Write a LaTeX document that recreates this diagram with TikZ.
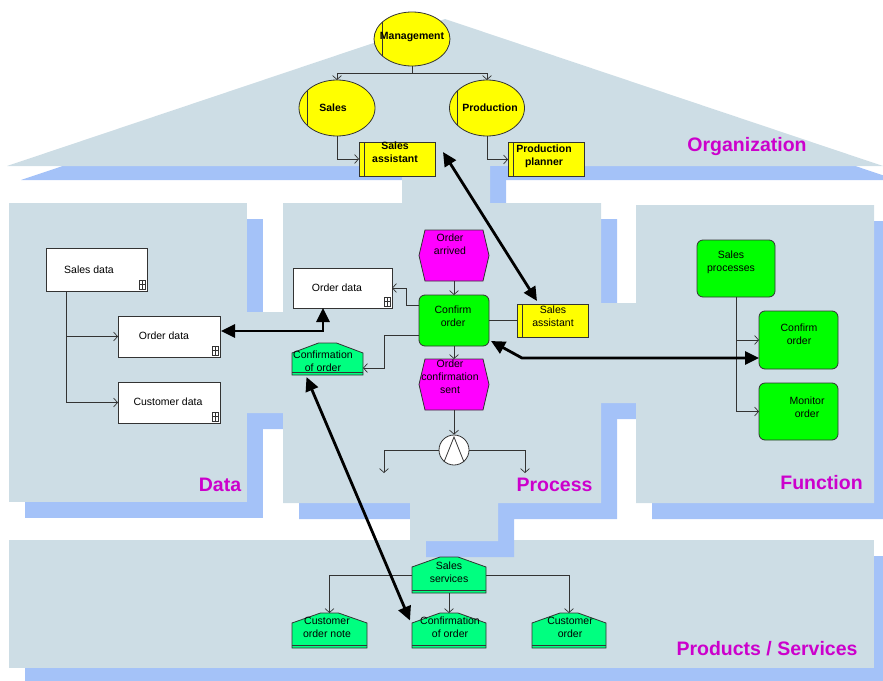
\documentclass[tikz,border=0pt]{standalone}
\usepackage{fontspec}
\setmainfont{Liberation Sans}
\usetikzlibrary{arrows.meta,calc,shapes.geometric}

\definecolor{houseblue}{RGB}{205,221,229}
\definecolor{shadowblue}{RGB}{164,194,248}
\definecolor{orgyellow}{RGB}{255,255,0}
\definecolor{eventmag}{RGB}{255,0,255}
\definecolor{funcgreen}{RGB}{0,255,0}
\definecolor{prodgreen}{RGB}{0,255,128}
\definecolor{titlemag}{RGB}{204,0,204}
\definecolor{edgegray}{RGB}{51,51,51}

\tikzset{
  platefill/.style={fill=houseblue},
  shadowfill/.style={fill=shadowblue},
  txt/.style={font=\fontsize{10.5}{13}\selectfont, align=center, inner sep=0pt},
  btxt/.style={font=\fontsize{10.5}{13}\bfseries\selectfont, align=center, inner sep=0pt},
  housetitle/.style={font=\fontsize{19.5}{23}\bfseries\selectfont, text=titlemag, inner sep=0pt},
  sized/.style 2 args={rectangle, minimum width=#1pt, minimum height=#2pt, inner sep=0pt, outer sep=0pt},
  edged/.style={draw=edgegray, line width=0.8pt},
  orgunit/.style 2 args={sized={#1}{#2}, ellipse, edged, fill=orgyellow,
    path picture={\draw[edgegray, line width=0.8pt]
      ([xshift=8pt]path picture bounding box.south west) --
      ([xshift=8pt]path picture bounding box.north west);}},
  roleunit/.style 2 args={sized={#1}{#2}, edged, fill=orgyellow,
    path picture={\draw[edgegray, line width=0.8pt]
      ([xshift=5pt]path picture bounding box.south west) --
      ([xshift=5pt]path picture bounding box.north west);}},
  entity/.style 2 args={sized={#1}{#2}, edged, fill=white},
  func/.style 2 args={sized={#1}{#2}, edged, fill=funcgreen, rounded corners=6pt},
  slot/.style 2 args={sized={#1}{#2}},
  conn/.style={draw=edgegray, line width=0.7pt},
  flow/.style={conn, -{Straight Barb[length=4pt,width=9pt]}},
  assign/.style={line width=2.8pt, black,
    {Triangle[length=14pt,width=13pt]}-{Triangle[length=14pt,width=13pt]}},
}

% event: hexagon drawn on the anchors of a slot node
\newcommand\evhex[1]{%
  \filldraw[edged, fill=eventmag] (#1.west) -- ([xshift=6pt]#1.north west) --
    ([xshift=-6pt]#1.north east) -- (#1.east) -- ([xshift=-6pt]#1.south east) --
    ([xshift=6pt]#1.south west) -- cycle;}
% product/service: house outline with a base stripe
\newcommand\prodhouse[1]{%
  \filldraw[edged, fill=prodgreen] (#1.south west) -- ([yshift=-10pt]#1.north west) --
    ([xshift=-9pt]#1.north) -- ([xshift=9pt]#1.north) --
    ([yshift=-10pt]#1.north east) -- (#1.south east) -- cycle;
  \draw[edgegray, line width=0.6pt] ([yshift=3pt]#1.south west) -- ([yshift=3pt]#1.south east);}
% small table glyph in the lower right corner of an entity
\newcommand\tabicon[1]{%
  \draw[edgegray, line width=0.5pt]
    ([shift={(-8pt,2pt)}]#1.south east) rectangle ([shift={(-1.5pt,10.5pt)}]#1.south east)
    ([shift={(-5pt,2pt)}]#1.south east) -- ([shift={(-5pt,10.5pt)}]#1.south east)
    ([shift={(-8pt,6.5pt)}]#1.south east) -- ([shift={(-1.5pt,6.5pt)}]#1.south east);}

\begin{document}
\begin{tikzpicture}[x=1pt,y=-1pt]
\useasboundingbox (0,0) rectangle (883,680);
\clip (0,0) rectangle (883,680);

% ---------- the house ----------
% roof
\fill[shadowfill] (21,180) -- (459,33) -- (897,180) -- cycle;
\fill[platefill] (7,166) -- (445,19) -- (883,166) -- cycle;
% floor: products / services
\fill[shadowfill] (25,556) rectangle (890,684);
\fill[platefill] (9,540) rectangle (874,668);
% data wing
\fill[shadowfill] (25,219) rectangle (263,518);
\fill[platefill] (9,203) rectangle (247,502);
% process core with its links to the data wing, roof and floor
\begin{scope}[shift={(16,16)}]
  \fill[shadowfill] (283,203) rectangle (601,503) (240,312) rectangle (283,413)
    (402,150) rectangle (490,205) (410,500) rectangle (498,541);
\end{scope}
\fill[platefill] (283,203) rectangle (601,503) (240,312) rectangle (283,413)
  (402,150) rectangle (490,205) (410,500) rectangle (498,541);
% function wing with its link to the process core
\fill[shadowfill] (652,221) rectangle (890,519) (611,319) rectangle (658,419);
\fill[platefill] (636,205) rectangle (874,503) (595,303) rectangle (642,403);

% ---------- organization ----------
\node[orgunit={76}{54}] (mgmt) at (412,39) {};
\node[orgunit={76}{56}] (sales) at (337,108) {};
\node[orgunit={75}{56}] (prodn) at (487,108) {};
\node[roleunit={76}{34}] (sa1) at (397,159) {};
\node[roleunit={76}{34}] (pp) at (546,159.5) {};
\node[btxt] (t-mgmt) at (412,37) {Management};
\node[btxt] (t-sales) at (333,108) {Sales};
\node[btxt] (t-prodn) at (490,108) {Production};
\node[btxt] (t-sa1) at (395,152) {Sales\\assistant};
\node[btxt] (t-pp) at (544,156) {Production\\planner};
\draw[flow] (mgmt.south) -- ++(0,7) -| (sales.north);
\draw[flow] (mgmt.south) -- ++(0,7) -| (prodn.north);
\draw[flow] (sales.south) |- (sa1.west);
\draw[flow] (prodn.south) |- (pp.west);

% ---------- data ----------
\node[entity={101}{43}] (sd) at (96.5,269.5) {};
\node[entity={102}{41}] (od1) at (169,336.5) {};
\node[entity={102}{41}] (cd) at (169,402.5) {};
\tabicon{sd}\tabicon{od1}\tabicon{cd}
\node[txt] (t-sd) at (89,270) {Sales data};
\node[txt] (t-od1) at (164,336) {Order data};
\node[txt] (t-cd) at (168,402) {Customer data};
\draw[flow] ($(sd.south west)+(20,0)$) |- (od1.west);
\draw[flow] ($(sd.south west)+(20,0)$) |- (cd.west);

% ---------- process ----------
\node[slot={70}{51}] (oa) at (454,255.5) {};
\evhex{oa}
\node[func={70}{51}] (co) at (454,320.5) {};
\node[slot={70}{51}] (ocs) at (454,384.5) {};
\evhex{ocs}
\node[circle, edged, fill=white, minimum size=30pt, inner sep=0pt] (andc) at (454,450) {};
\draw[edgegray, line width=0.8pt] ($(andc.center)+(-10,12)$) -- ($(andc.center)+(0,-13)$) -- ($(andc.center)+(10,12)$);
\node[entity={99}{40}] (od2) at (342.5,288) {};
\tabicon{od2}
\node[slot={71}{32}] (cp) at (327.5,359) {};
\prodhouse{cp}
\node[roleunit={71}{33}] (sa2) at (552.5,320.5) {};
\node[txt] (t-oa) at (450,244.5) {Order\\arrived};
\node[txt] (t-co) at (453,316) {Confirm\\order};
\node[txt] (t-ocs) at (450,377) {Order\\confirmation\\sent};
\node[txt] (t-od2) at (337,288) {Order data};
\node[txt] (t-cp) at (323,361) {Confirmation\\of order};
\node[txt] (t-sa2) at (553,316) {Sales\\assistant};
\draw[flow] (oa.south) -- (co.north);
\draw[flow] (co.south) -- (ocs.north);
\draw[flow] (ocs.south) -- (andc.north);
\coordinate (andL) at (384,473);
\coordinate (andR) at (525,473);
\draw[flow] (andc.west) -| (andL);
\draw[flow] (andc.east) -| (andR);
\draw[flow] ($(co.west)+(0,-15.5)$) -- ++(-13,0) |- (od2.east);
\draw[flow] ($(co.west)+(0,14.5)$) -- ++(-35,0) |- ($(cp.east)+(0,9)$);
\draw[conn] (co.east) -- (sa2.west);

% ---------- function ----------
\node[func={78}{57}] (spf) at (736,268.5) {};
\node[func={79}{58}] (fco) at (798.5,340) {};
\node[func={79}{57}] (mo) at (798.5,411.5) {};
\node[txt] (t-spf) at (731,262.5) {Sales\\processes};
\node[txt] (t-fco) at (799,334.5) {Confirm\\order};
\node[txt] (t-mo) at (807,407.5) {Monitor\\order};
\draw[flow] (spf.south) |- (fco.west);
\draw[flow] (spf.south) |- (mo.west);

% ---------- products / services ----------
\node[slot={74}{36}] (ss) at (449,575) {};
\node[slot={75}{35}] (con) at (329.5,630.5) {};
\node[slot={74}{35}] (pco) at (449,630.5) {};
\node[slot={74}{35}] (cuo) at (569,630.5) {};
\prodhouse{ss}\prodhouse{con}\prodhouse{pco}\prodhouse{cuo}
\node[txt] (t-ss) at (449,572) {Sales\\services};
\node[txt] (t-con) at (327,627.5) {Customer\\order note};
\node[txt] (t-pco) at (450,627.5) {Confirmation\\of order};
\node[txt] (t-cuo) at (570,627.5) {Customer\\order};
\draw[flow] (ss.west) -| (con.north);
\draw[flow] (ss.east) -| (cuo.north);
\draw[flow] (ss.south) -- (pco.north);

% ---------- view titles ----------
\node[housetitle] (h-org) at (747,146) {Organization};
\node[housetitle] (h-data) at (220,485) {Data};
\node[housetitle] (h-proc) at (554.5,485) {Process};
\node[housetitle] (h-func) at (821.5,483) {Function};
\node[housetitle] (h-prod) at (767,649) {Products / Services};

% ---------- assignments across the views ----------
\draw[assign] ($(sa1.east)+(8,-7)$) -- ($(sa2.north)+(-15.5,-3)$);
\draw[assign] ($(od1.east)+(1,-5.5)$) -| ($(od2.south)+(-19.5,0)$);
\coordinate (bend) at (522,358);
\draw[assign] ($(co.south east)+(2,-5)$) -- (bend) -- ($(fco.west)+(0,18)$);
\draw[assign] ($(cp.south)+(-21,2)$) -- ($(pco.west)+(-2,-10)$);
\end{tikzpicture}
\end{document}
